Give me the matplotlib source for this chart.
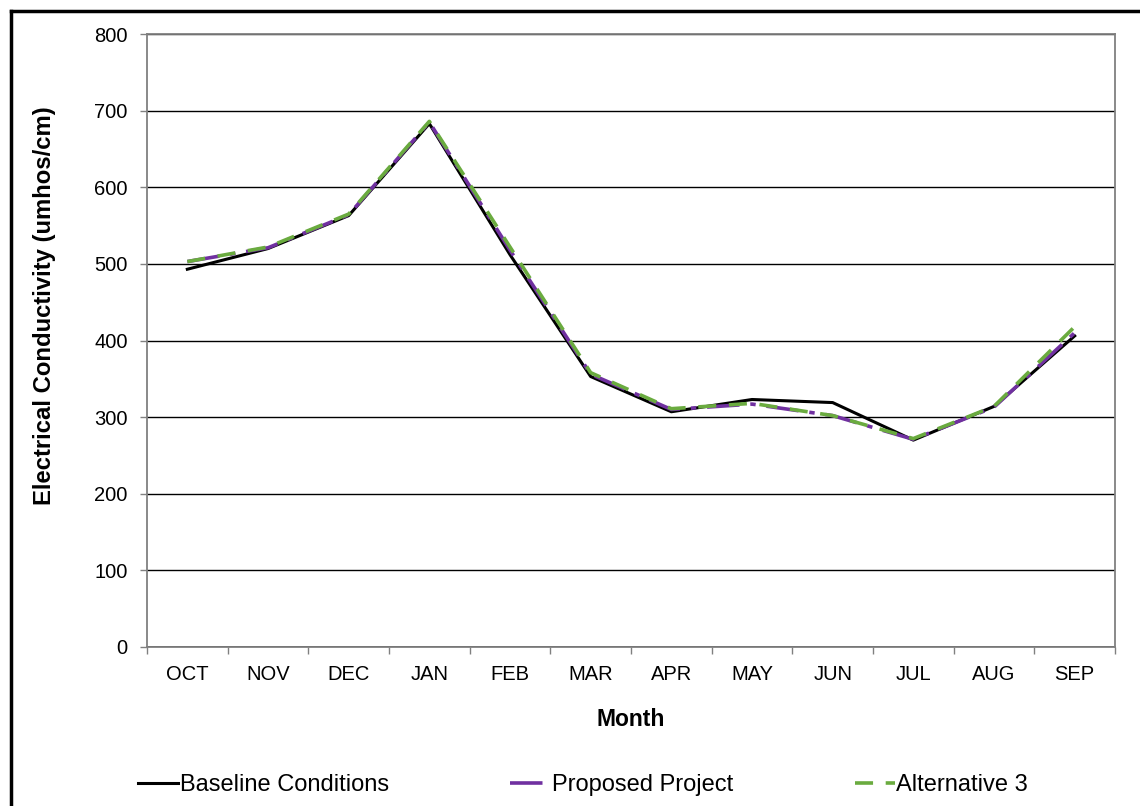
import matplotlib
matplotlib.use("Agg")
import matplotlib.pyplot as plt
from matplotlib.lines import Line2D
from matplotlib import font_manager

months = ["OCT", "NOV", "DEC", "JAN", "FEB", "MAR", "APR", "MAY", "JUN", "JUL", "AUG", "SEP"]
baseline = [493, 520, 563, 683, 512, 353, 307, 323, 319, 270, 314, 406]
proposed = [503, 521, 564, 685, 518, 356, 310, 317, 302, 271, 313, 410]
alternative3 = [503, 522, 565, 686, 522, 358, 311, 318, 302, 272, 314, 418]
yticks = [0, 100, 200, 300, 400, 500, 600, 700, 800]

names = {f.name for f in font_manager.fontManager.ttflist}
base_font = "Liberation Sans" if "Liberation Sans" in names else "DejaVu Sans"
narrow_font = "Liberation Sans Narrow" if "Liberation Sans Narrow" in names else base_font
plt.rcParams['font.family'] = [base_font, 'DejaVu Sans']

fig = plt.figure(figsize=(11.4, 8.06), dpi=100)
ax = fig.add_axes([147/1140, 1 - 647/806, (1115-147)/1140, (647-34)/806])

x = list(range(len(months)))
ax.plot(x, baseline, color="black", lw=2.2, zorder=3, label="Baseline Conditions")
ax.plot(x, proposed, color="#7030A0", lw=2.6, dashes=(9, 3, 1.5, 3), zorder=4, label="Proposed Project")
ax.plot(x, alternative3, color="#6AAB3F", lw=2.6, dashes=(5, 3.5), zorder=5, label="Alternative 3")

ax.set_xlim(-0.5, len(months) - 0.5)
ax.set_ylim(0, 800)
ax.set_yticks(yticks)
ax.set_yticklabels([str(v) for v in yticks], fontsize=14.5)
ax.set_xticks(x)
ax.set_xticklabels(months, fontsize=14.5)
ax.set_xticks([i - 0.5 for i in range(len(months) + 1)], minor=True)
ax.tick_params(axis="x", which="major", length=0, pad=13)
ax.tick_params(axis="x", which="minor", length=5, width=1, color="#808080", direction="out")
ax.tick_params(axis="y", length=5, width=1, color="#808080", direction="out", pad=9)

for v in yticks[1:]:
    ax.axhline(v, color="black", lw=1, zorder=1)
ax.axhline(0, color="black", lw=1.2, zorder=2)
for s in ax.spines.values():
    s.set_color("#808080")
    s.set_linewidth(1.3)

ax.set_xlabel("Month", fontsize=16.5, fontweight="bold", labelpad=17)
ax.set_ylabel("Electrical Conductivity (umhos/cm)", fontsize=17.2, fontweight="bold")
ax.yaxis.set_label_coords((56 - 147) / 968, (647 - 306) / 613)

# outer border (partially cropped)
fig.add_artist(Line2D([11/1140, 11/1140], [0, 1 - 11/806], transform=fig.transFigure, color="black", lw=2.5))
fig.add_artist(Line2D([11/1140, 1], [1 - 11/806, 1 - 11/806], transform=fig.transFigure, color="black", lw=2.5))

leg = fig.legend(loc="center", bbox_to_anchor=(583/1140, 1 - 785/806), ncol=3, frameon=False,
                 prop={"family": narrow_font, "size": 17}, handlelength=1.7, handletextpad=0.05,
                 columnspacing=5.15)

fig.savefig("out.png", dpi=100)
